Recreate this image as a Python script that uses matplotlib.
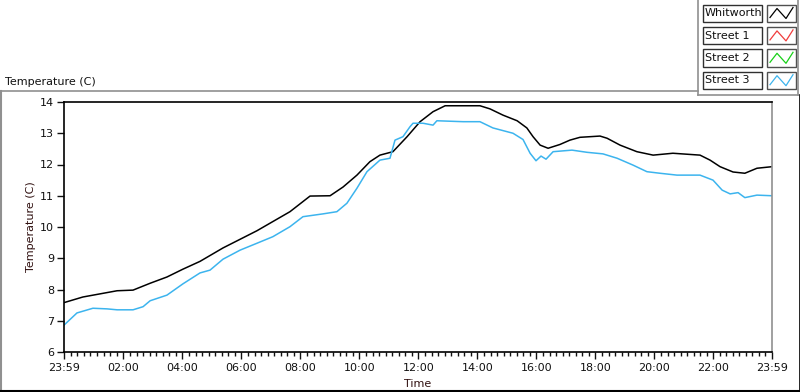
import matplotlib
matplotlib.use('Agg')
import matplotlib.pyplot as plt
from matplotlib.patches import Rectangle
from matplotlib.lines import Line2D
import numpy as np

# hours after 23:59 (0 .. 24)
whitworth_hours = [0, 0.64, 1.22, 1.80, 2.34, 2.92, 3.49, 4.03, 4.61, 5.39, 6.54, 7.66,
                   8.34, 9.02, 9.46, 9.93, 10.37, 10.71, 11.15, 11.63, 12.07, 12.51, 12.92,
                   14.10, 14.44, 14.88, 15.36, 15.69, 15.90, 16.14, 16.41, 16.81, 17.15,
                   17.49, 18.17, 18.41, 18.85, 19.42, 19.97, 20.64, 21.56, 21.90, 22.24,
                   22.68, 23.08, 23.49, 24.0]
whitworth_temp = [7.58, 7.76, 7.86, 7.96, 7.98, 8.20, 8.40, 8.65, 8.90, 9.33, 9.88, 10.49,
                  10.99, 11.00, 11.28, 11.66, 12.09, 12.30, 12.41, 12.89, 13.37, 13.69, 13.88,
                  13.88, 13.78, 13.58, 13.40, 13.17, 12.89, 12.62, 12.52, 12.64, 12.78,
                  12.87, 12.91, 12.84, 12.62, 12.41, 12.30, 12.36, 12.30, 12.14, 11.93,
                  11.76, 11.72, 11.88, 11.93]

street3_hours = [0, 0.44, 0.98, 1.46, 1.80, 2.34, 2.68, 2.92, 3.49, 4.03, 4.61, 4.95, 5.39,
                 5.97, 6.54, 7.08, 7.66, 8.10, 8.78, 9.25, 9.59, 9.93, 10.27, 10.71, 11.05,
                 11.22, 11.49, 11.73, 11.83, 12.17, 12.51, 12.64, 13.53, 14.10, 14.54, 15.22,
                 15.56, 15.80, 16.00, 16.17, 16.34, 16.58, 17.22, 17.73, 18.27, 18.75, 19.29,
                 19.76, 20.20, 20.78, 21.56, 22.00, 22.31, 22.58, 22.85, 23.08, 23.49, 24.0]
street3_temp = [6.86, 7.25, 7.40, 7.38, 7.35, 7.35, 7.45, 7.64, 7.82, 8.18, 8.53, 8.62, 8.97,
                9.26, 9.48, 9.69, 10.01, 10.33, 10.42, 10.49, 10.76, 11.24, 11.77, 12.14, 12.20,
                12.78, 12.89, 13.21, 13.32, 13.32, 13.26, 13.40, 13.37, 13.37, 13.17, 13.00,
                12.80, 12.36, 12.12, 12.27, 12.17, 12.41, 12.46, 12.39, 12.34, 12.20, 11.98,
                11.77, 11.72, 11.66, 11.66, 11.50, 11.18, 11.06, 11.10, 10.94, 11.02, 11.00]

x_tick_labels = ['23:59', '02:00', '04:00', '06:00', '08:00', '10:00', '12:00',
                 '14:00', '16:00', '18:00', '20:00', '22:00', '23:59']
y_ticks = [6, 7, 8, 9, 10, 11, 12, 13, 14]
legend_names = ['Whitworth', 'Street 1', 'Street 2', 'Street 3']
legend_colors = ['#000000', '#f03c3c', '#18d018', '#3cb4ee']

W, H = 800, 392
fig = plt.figure(figsize=(W / 100, H / 100), dpi=100)
fig.patch.set_facecolor('white')
plt.rcParams['font.family'] = ['DejaVu Sans']


def fx(px):
    return px / W


def fy(py):
    return 1 - py / H


ax = fig.add_axes([fx(64), fy(352), fx(772) - fx(64), fy(102) - fy(352)])
ax.plot(whitworth_hours, whitworth_temp, color=legend_colors[0], lw=1.1)
ax.plot(street3_hours, street3_temp, color=legend_colors[3], lw=1.1)

ax.set_xlim(0, 24)
ax.set_ylim(6, 14)
major = [0] + [2 * k + 1 / 60 for k in range(1, 12)] + [24]
ax.set_xticks(major)
ax.set_xticklabels(x_tick_labels)
minor = []
for k in range(12):
    a, b = major[k], major[k + 1]
    minor += list(np.linspace(a, b, 10)[1:-1])
ax.set_xticks(minor, minor=True)
ax.set_yticks(y_ticks)

ax.tick_params(axis='both', which='major', length=5, width=1, labelsize=8, colors='#111111', pad=2)
ax.tick_params(axis='x', which='major', pad=3)
ax.tick_params(axis='x', which='minor', length=3, width=1, color='#111111')
ax.spines['top'].set_color('black')
ax.spines['left'].set_color('black')
ax.spines['bottom'].set_color('black')
ax.spines['right'].set_color('#909090')
for s in ax.spines.values():
    s.set_linewidth(1.2)

ax.set_xlabel('Time', fontsize=8, color='#301010', labelpad=4)
ax.set_ylabel('Temperature (C)', fontsize=8, color='#301010', labelpad=3)

# outer panel frame
fig.add_artist(Line2D([fx(0.5), fx(0.5)], [fy(91), fy(391)], color='#909090', lw=1.5))
fig.add_artist(Line2D([fx(0), fx(799.5)], [fy(391), fy(391)], color='black', lw=1.5))
fig.add_artist(Line2D([fx(799.5), fx(799.5)], [fy(95), fy(391)], color='black', lw=1.2))
fig.add_artist(Line2D([fx(0), fx(698)], [fy(91), fy(91)], color='#909090', lw=1.2))
fig.add_artist(Line2D([fx(698), fx(698)], [fy(0), fy(95)], color='#909090', lw=1.2))
fig.add_artist(Line2D([fx(698), fx(798)], [fy(95), fy(95)], color='#909090', lw=1.2))
fig.add_artist(Line2D([fx(798), fx(798)], [fy(0), fy(95)], color='#909090', lw=1.2))

fig.text(fx(5), fy(82), 'Temperature (C)', fontsize=8, color='#111111', va='center', ha='left')

# legend
for i, (name, col) in enumerate(zip(legend_names, legend_colors)):
    top = 4.5 + i * 22.4
    h = 17.5
    fig.add_artist(Rectangle((fx(703), fy(top + h)), fx(762) - fx(703), h / H,
                             facecolor='white', edgecolor='#303030', lw=1))
    fig.text(fx(705), fy(top + h / 2), name, fontsize=8, color='#101010', va='center', ha='left')
    fig.add_artist(Rectangle((fx(767), fy(top + h)), fx(796) - fx(767), h / H,
                             facecolor='white', edgecolor='#505050', lw=1))
    ix = [770, 777, 786, 793]
    iy = [top + 13, top + 4, top + 14, top + 3]
    fig.add_artist(Line2D([fx(v) for v in ix], [fy(v) for v in iy], color=col, lw=0.9))

fig.savefig('out.png', dpi=100)
